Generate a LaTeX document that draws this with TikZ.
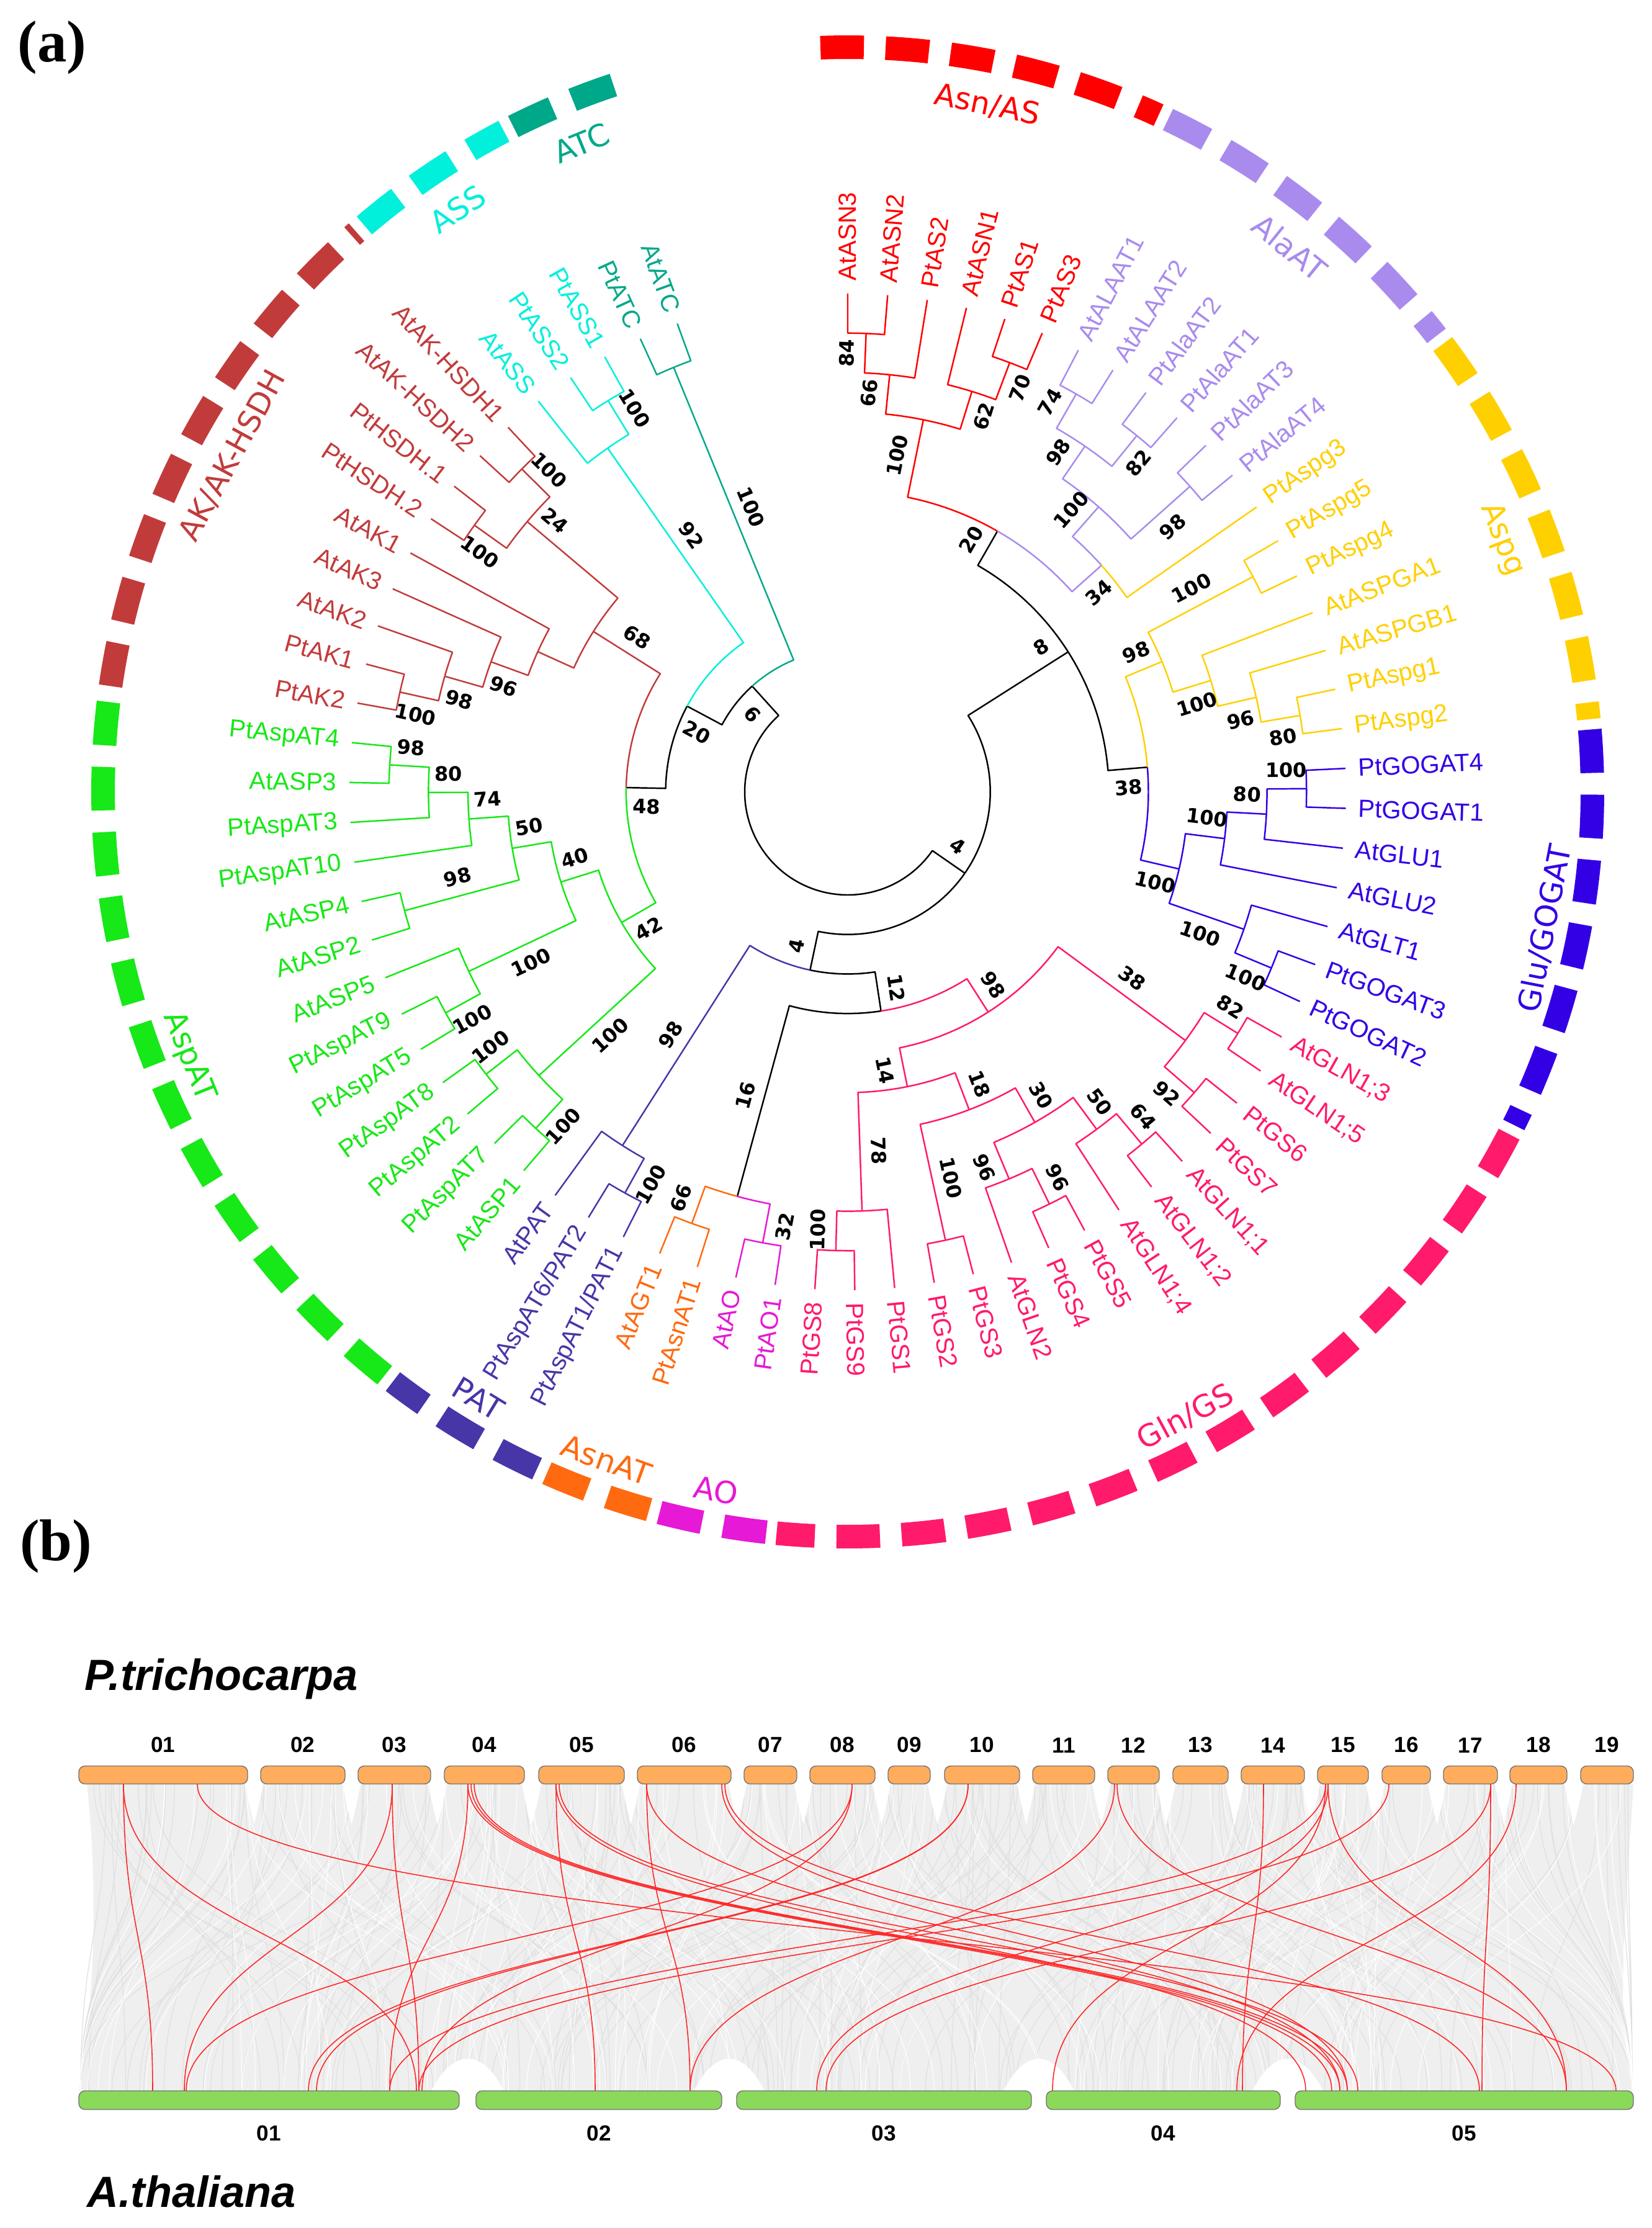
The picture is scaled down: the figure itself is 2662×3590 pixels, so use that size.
\documentclass[tikz,border=0pt]{standalone}
\usepackage{fontspec}
\usetikzlibrary{positioning}
\newfontfamily\leaffont{Liberation Sans}
\newfontfamily\bootfont{DejaVu Sans}
\newfontfamily\panelfont{Liberation Serif}

\definecolor{cAsn}{HTML}{FF0000}
\definecolor{cAla}{HTML}{A98BEE}
\definecolor{cAspg}{HTML}{FFD000}
\definecolor{cGlu}{HTML}{3300E6}
\definecolor{cGln}{HTML}{FF1A6C}
\definecolor{cAO}{HTML}{E619D6}
\definecolor{cAsnAT}{HTML}{FF6A10}
\definecolor{cPAT}{HTML}{4636A8}
\definecolor{cAsp}{HTML}{17E817}
\definecolor{cAK}{HTML}{C23B3B}
\definecolor{cASS}{HTML}{00F0DC}
\definecolor{cATC}{HTML}{00A88A}
\definecolor{chrP}{HTML}{FFAD5C}
\definecolor{chrA}{HTML}{8BD95B}
\definecolor{ribbon}{HTML}{EFEFEF}
\definecolor{linkred}{HTML}{FF2626}

% leaf spacing (deg), leaf radius and level step (units of 0.1 mm)
\def\dl{4.5946}
\def\rl{803}
\def\hs{63.7}

% colour, parent index, parent level, child index, child level
\newcommand{\twig}[5]{%
  \pgfmathsetmacro\angP{90-(#2-1)*\dl}%
  \pgfmathsetmacro\angC{90-(#4-1)*\dl}%
  \pgfmathsetmacro\radP{\rl-\hs*#3}%
  \pgfmathsetmacro\radC{\rl-\hs*#5}%
  \draw[branch,color=#1] (\angP:\radP) arc[start angle=\angP,end angle=\angC,radius=\radP*0.1mm] -- (\angC:\radC);}

\newcounter{bootno}
% index, parent level, node level, value, side
\newcommand{\boot}[5]{%
  \stepcounter{bootno}%
  \pgfmathsetmacro\angB{(#1-1)*\dl}%
  \pgfmathsetmacro\radB{\rl-\hs*(#2+#3)/2}%
  \pgfmathsetmacro\posB{90-\angB+(#5)*1720/\radB}%
  \pgfmathsetmacro\rotB{\angB<180 ? 90-\angB : 270-\angB}%
  \node[boot,rotate=\rotB] (bs\thebootno) at (\posB:\radB) {#4};}

\tikzset{
  branch/.style={line width=0.7pt,line join=round},
  leaf/.style={font=\leaffont\fontsize{11.4}{13}\selectfont,inner sep=0pt},
  boot/.style={font=\bootfont\bfseries\fontsize{9.1}{10}\selectfont,inner sep=0pt},
  group/.style={font=\bootfont\fontsize{14}{16}\selectfont,inner sep=0pt},
  ring/.style={line width=3.8mm,dash pattern=on 7mm off 3.5mm},
  pchr/.style={draw=black!55,fill=chrP,rounded corners=1mm,minimum height=2.9mm,inner sep=0pt,line width=0.4pt},
  achr/.style={draw=black!55,fill=chrA,rounded corners=1mm,minimum height=3mm,inner sep=0pt,line width=0.4pt},
  chrno/.style={font=\leaffont\bfseries\fontsize{10}{11}\selectfont,inner sep=0pt},
  link/.style={draw=linkred,line width=0.45pt},
  faint/.style={draw=black!12,line width=0.35pt},
  streak/.style={draw=white,line width=0.3pt},
  species/.style={font=\leaffont\bfseries\itshape\fontsize{20}{22}\selectfont,inner sep=0pt},
  panel/.style={font=\panelfont\bfseries\fontsize{27}{29}\selectfont,inner sep=0pt}
}

\begin{document}
\begin{tikzpicture}[x=0.1mm,y=0.1mm]
\useasboundingbox (0,0) rectangle (2662,-3590);
\fill[white] (0,0) rectangle (2662,-3590);

\node[panel] (pa) at (84,-77) {(a)};

\begin{scope}[shift={(1366,-1276)}]
  % outer ring of groups
  \foreach \ga/\gb/\kol in {1/6/cAsn, 7/12/cAla, 13/19/cAspg, 20/26/cGlu, 27/41/cGln, 42/43/cAO,
      44/45/cAsnAT, 46/48/cPAT, 49/61/cAsp, 62/70/cAK, 71/73/cASS, 74/75/cATC}{
    \pgfmathsetmacro\sA{92.1-(\ga-1)*\dl}
    \pgfmathsetmacro\eA{88.3-(\gb-1)*\dl}
    \draw[ring,color=\kol] (\sA:1200) arc[start angle=\sA,end angle=\eA,radius=120mm];
  }
  \foreach \gu/\gname/\kol in {3.5/{Asn/AS}/cAsn, 9.5/AlaAT/cAla, 16/Aspg/cAspg, 23/{Glu/GOGAT}/cGlu,
      34/{Gln/GS}/cGln, 42.5/AO/cAO, 44.5/AsnAT/cAsnAT, 47/PAT/cPAT, 55/AspAT/cAsp,
      66/{AK/AK-HSDH}/cAK, 72/ASS/cASS, 74.5/ATC/cATC}{
    \pgfmathsetmacro\angG{(\gu-1)*\dl}
    \pgfmathsetmacro\upG{(\angG<90)||(\angG>270)}
    \pgfmathsetmacro\rotG{\upG ? -\angG : 180-\angG}
    \pgfmathsetmacro\radG{\upG ? 1130 : 1145}
    \node[group,text=\kol,rotate=\rotG] (grp\kol) at ({90-\angG}:\radG) {\gname};
  }

  % branches
  \foreach \kol/\pU/\pH/\cU/\cH in {
      black/49.1709/10/28.1523/9, black/49.1709/10/70.1895/9,
      black/28.1523/9/13.53125/6, black/28.1523/9/42.7734/8,
      black/13.53125/6/7.5/5, black/13.53125/6/19.5625/5,
      cAsn/7.5/5/3.5/3, cAla/7.5/5/11.5/4,
      cAsn/3.5/3/2.25/2, cAsn/3.5/3/4.75/2,
      cAsn/2.25/2/1.5/1, cAsn/2.25/2/3/0, cAsn/1.5/1/1/0, cAsn/1.5/1/2/0,
      cAsn/4.75/2/4/0, cAsn/4.75/2/5.5/1, cAsn/5.5/1/5/0, cAsn/5.5/1/6/0,
      cAla/11.5/4/10/3, cAspg/11.5/4/13/0,
      cAla/10/3/8.5/2, cAla/10/3/11.5/1, cAla/8.5/2/7.5/1, cAla/8.5/2/9.5/1,
      cAla/7.5/1/7/0, cAla/7.5/1/8/0, cAla/9.5/1/9/0, cAla/9.5/1/10/0,
      cAla/11.5/1/11/0, cAla/11.5/1/12/0,
      cAspg/19.5625/5/15.6875/4, cGlu/19.5625/5/23.4375/4,
      cAspg/15.6875/4/14.5/1, cAspg/15.6875/4/16.875/3,
      cAspg/14.5/1/14/0, cAspg/14.5/1/15/0,
      cAspg/16.875/3/16/0, cAspg/16.875/3/17.75/2,
      cAspg/17.75/2/17/0, cAspg/17.75/2/18.5/1, cAspg/18.5/1/18/0, cAspg/18.5/1/19/0,
      cGlu/23.4375/4/22.125/3, cGlu/23.4375/4/24.75/2,
      cGlu/22.125/3/21.25/2, cGlu/22.125/3/23/0,
      cGlu/21.25/2/20.5/1, cGlu/21.25/2/22/0, cGlu/20.5/1/20/0, cGlu/20.5/1/21/0,
      cGlu/24.75/2/24/0, cGlu/24.75/2/25.5/1, cGlu/25.5/1/25/0, cGlu/25.5/1/26/0,
      black/42.7734/8/38.296875/7, cPAT/42.7734/8/47.25/2,
      cGln/38.296875/7/33.09375/6, black/38.296875/7/43.5/2,
      cGln/33.09375/6/28.5/2, cGln/33.09375/6/37.6875/5,
      cGln/28.5/2/27.5/1, cGln/28.5/2/29.5/1,
      cGln/27.5/1/27/0, cGln/27.5/1/28/0, cGln/29.5/1/29/0, cGln/29.5/1/30/0,
      cGln/37.6875/5/35.625/4, cGln/37.6875/5/39.75/2,
      cGln/35.625/4/33.75/3, cGln/35.625/4/37.5/1,
      cGln/33.75/3/32.25/2, cGln/33.75/3/35.25/2,
      cGln/32.25/2/31.5/1, cGln/32.25/2/33/0, cGln/31.5/1/31/0, cGln/31.5/1/32/0,
      cGln/35.25/2/34.5/1, cGln/35.25/2/36/0, cGln/34.5/1/34/0, cGln/34.5/1/35/0,
      cGln/37.5/1/37/0, cGln/37.5/1/38/0,
      cGln/39.75/2/39/0, cGln/39.75/2/40.5/1, cGln/40.5/1/40/0, cGln/40.5/1/41/0,
      cAO/43.5/2/42.5/1, cAsnAT/43.5/2/44.5/1,
      cAO/42.5/1/42/0, cAO/42.5/1/43/0, cAsnAT/44.5/1/44/0, cAsnAT/44.5/1/45/0,
      cPAT/47.25/2/46.5/1, cPAT/47.25/2/48/0, cPAT/46.5/1/46/0, cPAT/46.5/1/47/0,
      black/70.1895/9/65.8789/8, cATC/70.1895/9/74.5/1,
      cATC/74.5/1/74/0, cATC/74.5/1/75/0,
      black/65.8789/8/60.0078/7, cASS/65.8789/8/71.75/2,
      cASS/71.75/2/71/0, cASS/71.75/2/72.5/1, cASS/72.5/1/72/0, cASS/72.5/1/73/0,
      cAsp/60.0078/7/53.234375/6, cAK/60.0078/7/66.78125/5,
      cAK/66.78125/5/65.0625/4, cAK/66.78125/5/68.5/2,
      cAK/68.5/2/67.5/1, cAK/68.5/2/69.5/1,
      cAK/67.5/1/67/0, cAK/67.5/1/68/0, cAK/69.5/1/69/0, cAK/69.5/1/70/0,
      cAK/65.0625/4/64.125/3, cAK/65.0625/4/66/0,
      cAK/64.125/3/63.25/2, cAK/64.125/3/65/0,
      cAK/63.25/2/62.5/1, cAK/63.25/2/64/0, cAK/62.5/1/62/0, cAK/62.5/1/63/0,
      cAsp/53.234375/6/50.5/2, cAsp/53.234375/6/55.96875/5,
      cAsp/50.5/2/49.5/1, cAsp/50.5/2/51.5/1,
      cAsp/49.5/1/49/0, cAsp/49.5/1/50/0, cAsp/51.5/1/51/0, cAsp/51.5/1/52/0,
      cAsp/55.96875/5/54.25/2, cAsp/55.96875/5/57.6875/4,
      cAsp/54.25/2/53.5/1, cAsp/54.25/2/55/0, cAsp/53.5/1/53/0, cAsp/53.5/1/54/0,
      cAsp/57.6875/4/56.5/1, cAsp/57.6875/4/58.875/3,
      cAsp/56.5/1/56/0, cAsp/56.5/1/57/0,
      cAsp/58.875/3/58/0, cAsp/58.875/3/59.75/2,
      cAsp/59.75/2/59/0, cAsp/59.75/2/60.5/1, cAsp/60.5/1/60/0, cAsp/60.5/1/61/0}{
    \twig{\kol}{\pU}{\pH}{\cU}{\cH}
  }

  % leaf names
  \foreach \i/\lname/\kol in {1/AtASN3/cAsn, 2/AtASN2/cAsn, 3/PtAS2/cAsn, 4/AtASN1/cAsn, 5/PtAS1/cAsn, 6/PtAS3/cAsn,
      7/AtALAAT1/cAla, 8/AtALAAT2/cAla, 9/PtAlaAT2/cAla, 10/PtAlaAT1/cAla, 11/PtAlaAT3/cAla, 12/PtAlaAT4/cAla,
      13/PtAspg3/cAspg, 14/PtAspg5/cAspg, 15/PtAspg4/cAspg, 16/AtASPGA1/cAspg, 17/AtASPGB1/cAspg,
      18/PtAspg1/cAspg, 19/PtAspg2/cAspg,
      20/PtGOGAT4/cGlu, 21/PtGOGAT1/cGlu, 22/AtGLU1/cGlu, 23/AtGLU2/cGlu, 24/AtGLT1/cGlu,
      25/PtGOGAT3/cGlu, 26/PtGOGAT2/cGlu,
      27/AtGLN1;3/cGln, 28/AtGLN1;5/cGln, 29/PtGS6/cGln, 30/PtGS7/cGln, 31/AtGLN1;1/cGln,
      32/AtGLN1;2/cGln, 33/AtGLN1;4/cGln, 34/PtGS5/cGln, 35/PtGS4/cGln, 36/AtGLN2/cGln,
      37/PtGS3/cGln, 38/PtGS2/cGln, 39/PtGS1/cGln, 40/PtGS9/cGln, 41/PtGS8/cGln,
      42/PtAO1/cAO, 43/AtAO/cAO, 44/PtAsnAT1/cAsnAT, 45/AtAGT1/cAsnAT,
      46/{PtAspAT1/PAT1}/cPAT, 47/{PtAspAT6/PAT2}/cPAT, 48/AtPAT/cPAT,
      49/AtASP1/cAsp, 50/PtAspAT7/cAsp, 51/PtAspAT2/cAsp, 52/PtAspAT8/cAsp, 53/PtAspAT5/cAsp,
      54/PtAspAT9/cAsp, 55/AtASP5/cAsp, 56/AtASP2/cAsp, 57/AtASP4/cAsp, 58/PtAspAT10/cAsp,
      59/PtAspAT3/cAsp, 60/AtASP3/cAsp, 61/PtAspAT4/cAsp,
      62/PtAK2/cAK, 63/PtAK1/cAK, 64/AtAK2/cAK, 65/AtAK3/cAK, 66/AtAK1/cAK, 67/PtHSDH.2/cAK,
      68/PtHSDH.1/cAK, 69/AtAK-HSDH2/cAK, 70/AtAK-HSDH1/cAK,
      71/AtASS/cASS, 72/PtASS2/cASS, 73/PtASS1/cASS, 74/PtATC/cATC, 75/AtATC/cATC}{
    \pgfmathsetmacro\angL{90-(\i-1)*\dl}
    \ifdim\angL pt>-90pt
      \node[leaf,text=\kol,rotate=\angL,anchor=west] (l\i) at (\angL:823) {\lname};
    \else
      \node[leaf,text=\kol,rotate=\angL+180,anchor=east] (l\i) at (\angL:823) {\lname};
    \fi
  }

  % bootstrap values
  \foreach \bU/\bP/\bN/\bV/\bS in {
      28.1523/10/9/4/1, 70.1895/10/9/6/1, 13.53125/7/6/8/1, 42.7734/9/8/4/-1,
      7.5/6/5/20/1, 19.5625/6/5/38/-1, 3.5/5/3/100/1, 11.5/5/4/34/-1,
      2.25/3/2/66/1, 4.75/3/2/62/-1, 1.5/2/1/84/1, 5.5/2/1/70/-1,
      10/4/3/100/1, 8.5/3/2/98/1, 11.5/3/1/98/-1, 7.5/2/1/74/1, 9.5/2/1/82/-1,
      15.6875/5/4/98/1, 14.5/4/1/100/1, 16.875/4/3/100/-1, 17.75/3/2/96/-1, 18.5/2/1/80/-1,
      23.4375/5/4/100/-1, 22.125/4/3/100/1, 21.25/3/2/80/1, 20.5/2/1/100/1,
      24.75/4/2/100/-1, 25.5/2/1/100/-1,
      38.296875/8/7/12/1, 33.09375/7/6/98/1, 43.5/7/2/16/-1,
      28.5/6/2/38/1, 37.6875/6/5/14/-1, 27.5/2/1/82/1, 29.5/2/1/92/-1,
      35.625/5/4/18/1, 39.75/5/2/78/1, 33.75/4/3/30/1, 37.5/4/1/100/1,
      32.25/3/2/50/1, 35.25/3/2/96/-1, 31.5/2/1/64/1, 34.5/2/1/96/1, 40.5/2/1/100/-1,
      42.5/2/1/32/1, 44.5/2/1/66/-1, 47.25/8/2/98/-1, 46.5/2/1/100/1,
      65.8789/9/8/20/1, 74.5/9/1/100/-1, 60.0078/8/7/48/1, 71.75/8/2/92/-1, 72.5/2/1/100/-1,
      53.234375/7/6/42/1, 66.78125/7/5/68/-1, 68.5/3/2/24/-1, 67.5/2/1/100/1, 69.5/2/1/100/-1,
      64.125/4/3/96/1, 63.25/3/2/98/1, 62.5/2/1/100/1,
      50.5/6/2/100/1, 55.96875/6/5/40/-1, 49.5/2/1/100/1, 51.5/2/1/100/-1,
      54.25/5/2/100/1, 57.6875/5/4/50/-1, 53.5/2/1/100/1, 56.5/4/1/98/-1,
      58.875/4/3/74/-1, 59.75/3/2/80/-1, 60.5/2/1/98/-1}{
    \boot{\bU}{\bP}{\bN}{\bV}{\bS}
  }
\end{scope}

% ---------------- (b) ----------------
\node[panel] (pb) at (90,-2492) {(b)};
\node[species,anchor=base west] (spP) at (136,-2723) {P.trichocarpa};
\node[species,anchor=base west] (spA) at (140,-3556) {A.thaliana};

\fill[ribbon] (140,-2875) -- (2632,-2875) .. controls (2622,-3050) and (2600,-3250) .. (2632,-3369)
  -- (127,-3369) .. controls (150,-3250) and (160,-3050) .. (140,-2875) -- cycle;
\pgfmathsetseed{21}
\foreach \k in {1,...,200}{
  \pgfmathsetmacro\ra{140+2490*rnd}
  \pgfmathsetmacro\rb{min(2630,max(130,\ra+1100*(rnd-0.5)))}
  \draw[faint] (\ra,-2875) .. controls (\ra,-3122) and (\rb,-3122) .. (\rb,-3369);
}
\foreach \k in {1,...,120}{
  \pgfmathsetmacro\ra{140+2490*rnd}
  \pgfmathsetmacro\rb{min(2630,max(130,\ra+900*(rnd-0.5)))}
  \draw[streak] (\ra,-2875) .. controls (\ra,-3122) and (\rb,-3122) .. (\rb,-3369);
}
\foreach \a/\b in {399/420, 556/577, 694/716, 845/868, 1006/1027, 1178/1199, 1284/1305, 1410/1431,
    1499/1522, 1643/1664, 1764/1785, 1868/1890, 1979/2000, 2102/2123, 2205/2227, 2305/2326,
    2413/2433, 2525/2547}{
  \fill[white] (\a-4,-2875) .. controls (\a+2,-2905) .. ({(\a+\b)/2},-2940) .. controls (\b-2,-2905) .. (\b+4,-2875) -- cycle;
}
\foreach \a/\b in {740/767, 1163/1187, 1662/1686, 2063/2087}{
  \fill[white] (\a-45,-3369) .. controls (\a-10,-3300) and (\b+10,-3300) .. (\b+45,-3369) -- cycle;
}

% collinear gene pairs
\foreach \a/\b in {199/246, 199/671, 318/2604, 632/297, 632/675, 754/628, 754/2146, 759/2159,
    764/2171, 896/959, 896/2104, 901/2188, 1042/1112, 1042/2159, 1163/2171, 1168/2384,
    1373/300, 1373/680, 1560/497, 1560/510, 1796/1112, 1800/2524, 2036/2002, 2136/1696,
    2136/628, 2140/2524, 2238/675, 2402/2388, 2402/1331, 2443/1993, 2140/1316}{
  \draw[link] (\a,-2875) .. controls (\a,-3122) and (\b,-3122) .. (\b,-3369);
}

% chromosomes
\foreach \nm/\a/\b in {01/127/399, 02/420/556, 03/577/694, 04/716/845, 05/868/1006, 06/1027/1178,
    07/1199/1284, 08/1305/1410, 09/1431/1499, 10/1522/1643, 11/1664/1764, 12/1785/1868,
    13/1890/1979, 14/2000/2102, 15/2123/2205, 16/2227/2305, 17/2326/2413, 18/2433/2525, 19/2547/2632}{
  \pgfmathsetmacro\barw{(\b-\a)*0.1}
  \node[pchr,minimum width=\barw mm] (p\nm) at ({(\a+\b)/2},-2860) {};
  \node[chrno,above=2mm of p\nm] (pn\nm) {\nm};
}
\foreach \nm/\a/\b in {01/127/740, 02/767/1163, 03/1187/1662, 04/1686/2063, 05/2087/2632}{
  \pgfmathsetmacro\barw{(\b-\a)*0.1}
  \node[achr,minimum width=\barw mm] (a\nm) at ({(\a+\b)/2},-3384) {};
  \node[chrno,below=2.5mm of a\nm] (an\nm) {\nm};
}
\end{tikzpicture}
\end{document}
